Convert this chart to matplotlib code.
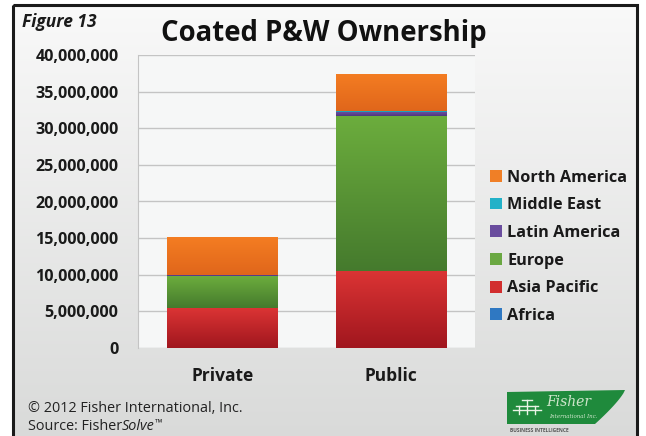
import numpy as np
import matplotlib
matplotlib.use("Agg")
import matplotlib.pyplot as plt
from matplotlib.patches import Patch, Rectangle, Polygon
from matplotlib.colors import LinearSegmentedColormap
from matplotlib.ticker import FuncFormatter, MultipleLocator

# ---- data ----
categories = ["Private", "Public"]
africa = [0, 50_000]
asia_pacific = [5_450_000, 10_500_000]
europe = [4_350_000, 21_150_000]
latin_america = [150_000, 500_000]
middle_east = [50_000, 100_000]
north_america = [5_100_000, 5_100_000]

series_names = ["Africa", "Asia Pacific", "Europe", "Latin America",
                "Middle East", "North America"]
series_values = [africa, asia_pacific, europe, latin_america,
                 middle_east, north_america]

# (legend colour, gradient top, gradient bottom)
series_colors = {
    "Africa": ("#2f78c2", "#3a86cf", "#245f9e"),
    "Asia Pacific": ("#d22e2e", "#db3434", "#a0161e"),
    "Europe": ("#6aa842", "#6cad3d", "#457a2d"),
    "Latin America": ("#6a4d9e", "#6a4d9e", "#4e3880"),
    "Middle East": ("#22b1c8", "#22b1c8", "#178ea3"),
    "North America": ("#f07f26", "#f47d22", "#e0661b"),
}

W, H = 646, 436
fig = plt.figure(figsize=(W / 100, H / 100), dpi=100)
fig.patch.set_facecolor("white")

FONT = "Open Sans"

# background panel with a soft vertical gradient
bg = fig.add_axes([0, 0, 1, 1], zorder=-10)
bg.set_xlim(0, W)
bg.set_ylim(H, 0)
bg.axis("off")
grad = np.linspace(0, 1, 256).reshape(-1, 1)
bg_cmap = LinearSegmentedColormap.from_list("bg", ["#f9f9f9", "#d9dad9"])
bg.imshow(grad, cmap=bg_cmap, extent=[13, 637, 440, 5], aspect="auto")
bg.add_patch(Rectangle((13, 5), 624, 440, fill=False, edgecolor="#1a1a1a",
                       lw=2.2, clip_on=False))

# plot area
ax = fig.add_axes([138 / W, 1 - 348 / H, 337 / W, 293 / H])
ax.set_facecolor("#f6f7f7")
x = np.arange(len(categories))
bottom = np.zeros(len(categories))
bar_width = 0.655
for name, vals in zip(series_names, series_values):
    vals = np.array(vals, dtype=float)
    legend_c, top_c, bot_c = series_colors[name]
    bars = ax.bar(x, vals, bar_width, bottom=bottom, color=legend_c,
                  label=name, zorder=2, linewidth=0)
    cmap = LinearSegmentedColormap.from_list(name, [bot_c, top_c])
    for rect in bars:
        if rect.get_height() <= 0:
            continue
        rx, ry = rect.get_x(), rect.get_y()
        rw, rh = rect.get_width(), rect.get_height()
        im = ax.imshow(grad, cmap=cmap, origin="lower", aspect="auto",
                       extent=[rx, rx + rw, ry, ry + rh], zorder=3)
        im.set_clip_path(rect)
    bottom += vals

ax.set_xlim(-0.5, len(categories) - 0.5)
ax.set_ylim(0, 40_000_000)
ax.yaxis.set_major_locator(MultipleLocator(5_000_000))
ax.yaxis.set_major_formatter(FuncFormatter(lambda v, p: f"{int(v):,}"))
ax.grid(axis="y", color="#c4c4c4", lw=1.0, zorder=0)
ax.set_axisbelow(True)
for s in ["top", "right", "bottom"]:
    ax.spines[s].set_visible(False)
ax.spines["left"].set_color("#c4c4c4")
ax.tick_params(axis="both", length=0)
ax.tick_params(axis="y", pad=14)
ax.tick_params(axis="x", pad=14)
ax.set_xticks(x)
ax.set_xticklabels(categories)
for lab in ax.get_yticklabels() + ax.get_xticklabels():
    lab.set_fontfamily(FONT)
    lab.set_fontweight("bold")
    lab.set_color("#1a1a1a")
for lab in ax.get_yticklabels():
    lab.set_fontsize(11.6)
for lab in ax.get_xticklabels():
    lab.set_fontsize(12.5)

# legend, top entry is the top of the stack
handles = [Patch(facecolor=series_colors[n][0], label=n) for n in series_names][::-1]
leg = fig.legend(handles=handles, loc="upper left",
                 bbox_to_anchor=(483 / W, 1 - 163 / H), frameon=False,
                 handlelength=0.75, handleheight=0.75, handletextpad=0.35,
                 labelspacing=0.72, borderaxespad=0,
                 prop={"family": FONT, "weight": "bold", "size": 11.7})
for t in leg.get_texts():
    t.set_color("#1a1a1a")

# titles
fig.text(22 / W, 1 - 22 / H, "Figure 13", fontfamily=FONT, fontweight="bold",
         fontstyle="italic", fontsize=12.5, va="center", ha="left", color="#1a1a1a")
fig.text(324 / W, 1 - 33 / H, "Coated P&W Ownership", fontfamily=FONT,
         fontweight="bold", fontsize=19.8, va="center", ha="center", color="#111111")

# footer
fig.text(28 / W, 1 - 408 / H, "\u00a9 2012 Fisher International, Inc.",
         fontfamily=FONT, fontsize=10.4, va="center", ha="left", color="#222222")
renderer = fig.canvas.get_renderer()
t1 = fig.text(28 / W, 1 - 426 / H, "Source: Fisher", fontfamily=FONT,
              fontsize=10.4, va="center", ha="left", color="#222222")
bb = t1.get_window_extent(renderer)
t2 = fig.text(bb.x1 / W, 1 - 426 / H, "Solve", fontfamily=FONT, fontstyle="italic",
              fontsize=10.4, va="center", ha="left", color="#222222")
bb2 = t2.get_window_extent(renderer)
fig.text(bb2.x1 / W, 1 - 423 / H, "\u2122", fontfamily=FONT,
         fontsize=7, va="center", ha="left", color="#222222")

# company badge
badge = fig.add_axes([0, 0, 1, 1], zorder=5)
badge.set_xlim(0, W)
badge.set_ylim(H, 0)
badge.axis("off")
tt = np.linspace(0, 1, 20)
curve = [(625 - 30 * t, 390 + 34 * t ** 0.8) for t in tt]
pts = [(507, 424), (507, 392)] + curve
badge.add_patch(Polygon(pts, closed=True, facecolor="#1f8a3c", edgecolor="none"))
badge.text(546, 402, "Fisher", fontfamily="DejaVu Serif", fontsize=10,
           color="#cfe6cc", va="center", ha="left", style="italic")
badge.text(549, 416, "International Inc.", fontfamily="DejaVu Serif", fontsize=4,
           color="#cfe6cc", va="center", ha="left", style="italic")
# small tree mark
for (x0, y0, x1, y1) in [(522, 400, 532, 400), (527, 400, 527, 406),
                         (516, 406, 538, 406), (519, 406, 519, 414),
                         (527, 406, 527, 414), (535, 406, 535, 414),
                         (513, 410, 541, 410)]:
    badge.plot([x0, x1], [y0, y1], color="#e9f3e6", lw=1.0)
badge.text(510, 430, "BUSINESS INTELLIGENCE", fontfamily=FONT, fontsize=3.5,
           color="#555555", va="center", ha="left", fontweight="bold")

fig.savefig("out.png", dpi=100)
